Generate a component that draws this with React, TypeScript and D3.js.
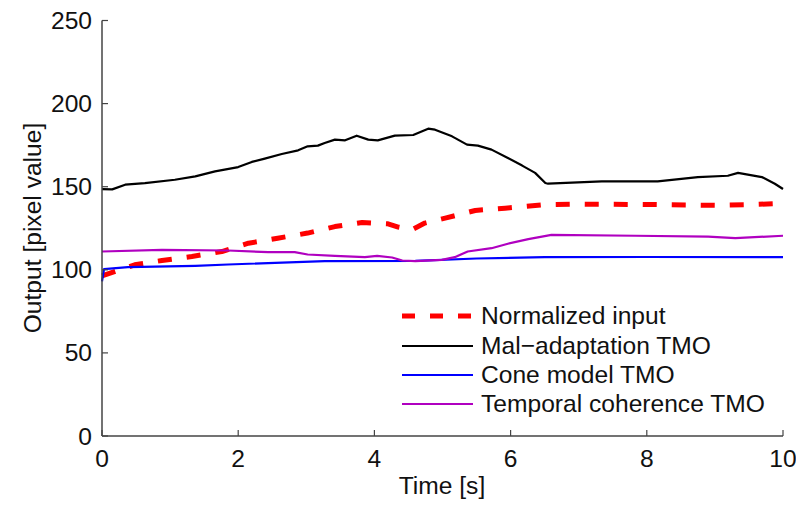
import React from "react";
import * as d3 from "d3";

const xTicks = [0, 2, 4, 6, 8, 10];
const yTicks = [0, 50, 100, 150, 200, 250];

const inputT = [0, 0.48, 0.88, 1.32, 1.76, 2.15, 2.58, 3.02, 3.42, 3.82, 4.2, 4.35, 4.55, 4.74, 5.04, 5.48, 5.92, 6.5, 7.0, 8.0, 9.0, 9.5, 10];
const inputV = [96.4, 103, 105.6, 108, 111, 116, 119, 122.1, 126, 128.5, 127.7, 125.7, 124.1, 128.1, 131.1, 135.7, 137.1, 139.2, 139.5, 139.3, 138.8, 139.2, 140];

const malT = [0, 0.15, 0.34, 0.63, 1.07, 1.37, 1.66, 2.0, 2.2, 2.39, 2.64, 2.88, 3.02, 3.17, 3.27, 3.42, 3.57, 3.74, 3.91, 4.05, 4.3, 4.57, 4.79, 4.89, 5.14, 5.36, 5.52, 5.72, 5.96, 6.17, 6.36, 6.51, 6.55, 7.34, 8.16, 8.75, 9.19, 9.34, 9.69, 9.88, 10];
const malV = [148.6, 148.4, 151.2, 152.2, 154.2, 156.2, 159.2, 161.8, 164.9, 166.9, 169.7, 171.9, 174.3, 174.7, 176.3, 178.3, 177.9, 180.7, 178.3, 177.9, 180.7, 181.1, 184.9, 184.3, 180.3, 175.3, 174.7, 172.3, 167.3, 162.7, 158.3, 152.2, 151.8, 153.2, 153.2, 155.8, 156.6, 158.3, 155.8, 151.8, 148.6];

const coneT = [0, 0.03, 0.38, 1.37, 1.85, 3.27, 4.6, 5.5, 6.5, 8, 10];
const coneV = [93, 100.4, 101.6, 102.4, 103.2, 105.2, 105.4, 106.8, 107.6, 107.7, 107.6];

const tempT = [0, 0.88, 1.85, 2.44, 2.83, 3.02, 3.42, 3.86, 4.04, 4.26, 4.41, 4.6, 4.99, 5.18, 5.37, 5.72, 5.96, 6.26, 6.6, 7.83, 8.9, 9.3, 10];
const tempV = [111, 112, 111.6, 110.6, 110.6, 109.2, 108.4, 107.6, 108.4, 107.4, 105.6, 105.2, 106, 107.6, 111, 113, 115.7, 118.5, 121, 120.5, 120, 119, 120.5];

const seriesNames = ["Normalized input", "Mal\u2212adaptation TMO", "Cone model TMO", "Temporal coherence TMO"];

const W = 796, H = 505;
const M = { left: 102, right: 783, top: 20.5, bottom: 436 };
const FONT = "'Liberation Sans', Arial, Helvetica, sans-serif";
const AXIS = "#444";
const FS = 24.6;

export default function App() {
  const x = d3.scaleLinear().domain([0, 10]).range([M.left, M.right]);
  const y = d3.scaleLinear().domain([0, 250]).range([M.bottom, M.top]);
  const zip = (t: number[], v: number[]) => t.map((d, i) => [d, v[i]] as [number, number]);
  const line = d3.line<[number, number]>().x(d => x(d[0])).y(d => y(d[1]));

  const series = [
    { name: seriesNames[0], data: zip(inputT, inputV), color: "#ff0000", width: 5, dash: "14,15" },
    { name: seriesNames[1], data: zip(malT, malV), color: "#000000", width: 2.2, dash: undefined },
    { name: seriesNames[2], data: zip(coneT, coneV), color: "#0000ff", width: 2.2, dash: undefined },
    { name: seriesNames[3], data: zip(tempT, tempV), color: "#b000c0", width: 2.2, dash: undefined },
  ];
  const legendY = [316, 346, 375, 404];

  return (
    <svg width={W} height={H} style={{ position: "absolute", left: 0, top: 0, background: "#fff" }} fontFamily={FONT}>
      {series.map(s => (
        <path key={s.name} d={line(s.data) || ""} fill="none" stroke={s.color} strokeWidth={s.width}
          strokeDasharray={s.dash} strokeLinejoin="round" />
      ))}
      <line x1={M.left} x2={M.left} y1={M.top} y2={M.bottom} stroke={AXIS} strokeWidth={1.5} />
      <line x1={M.left} x2={M.right} y1={M.bottom} y2={M.bottom} stroke={AXIS} strokeWidth={1.5} />
      {yTicks.map(t => (
        <g key={"y" + t}>
          <line x1={M.left} x2={M.left + 6} y1={y(t)} y2={y(t)} stroke={AXIS} strokeWidth={1.2} />
          <text x={M.left - 10} y={y(t) + 8.5} textAnchor="end" fontSize={FS} fill="#111">{t}</text>
        </g>
      ))}
      {xTicks.map(t => (
        <g key={"x" + t}>
          <line x1={x(t)} x2={x(t)} y1={M.bottom} y2={M.bottom - 6} stroke={AXIS} strokeWidth={1.2} />
          <text x={x(t)} y={M.bottom + 31} textAnchor="middle" fontSize={FS} fill="#111">{t}</text>
        </g>
      ))}
      <text x={442} y={494} textAnchor="middle" fontSize={FS} fill="#111">Time [s]</text>
      <text transform="translate(41,228) rotate(-90)" textAnchor="middle" fontSize={FS} fill="#111">Output [pixel value]</text>
      {series.map((s, i) => (
        <g key={"lg" + i}>
          <line x1={402} x2={473} y1={legendY[i]} y2={legendY[i]} stroke={s.color} strokeWidth={s.width === 5 ? 5 : 2.2}
            strokeDasharray={s.dash ? "13,15" : undefined} />
          <text x={481} y={legendY[i] + 8} fontSize={FS} fill="#111">{s.name}</text>
        </g>
      ))}
    </svg>
  );
}
